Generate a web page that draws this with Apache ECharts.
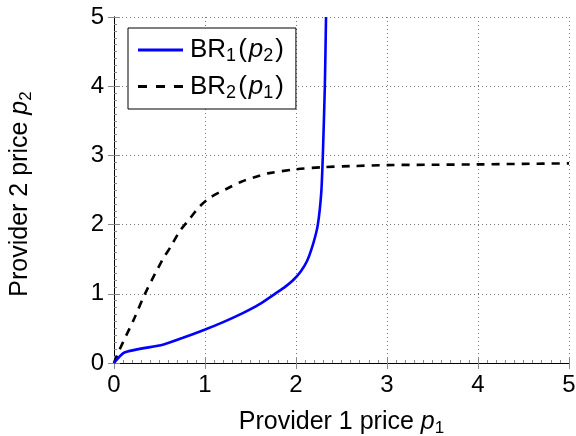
<!DOCTYPE html>
<html>
<head>
<meta charset="utf-8">
<script src="https://cdn.jsdelivr.net/npm/echarts@6/dist/echarts.min.js"></script>
<style>html,body{margin:0;padding:0;background:#fff}#c{width:576px;height:436px}</style>
</head>
<body>
<div id="c"></div>
<script>
// BR1(p2): x = best response of provider 1, y = p2
const br1X = [0, 0.115, 0.536, 0.75, 0.995, 1.2, 1.415, 1.6, 1.78, 1.88, 1.97, 2.05, 2.12, 2.19, 2.24, 2.277, 2.295, 2.317, 2.33];
const br1P2 = [0, 0.153, 0.264, 0.36, 0.48, 0.59, 0.72, 0.85, 1.01, 1.1, 1.2, 1.32, 1.47, 1.73, 2.0, 2.45, 3.0, 4.0, 5.0];
// BR2(p1): x = p1, y = best response of provider 2
const p1Vals = [0, 0.06, 0.225, 0.335, 0.536, 0.628, 0.72, 0.83, 0.94, 1.068, 1.25, 1.40, 1.58, 1.69, 2.0, 2.3, 2.6, 3.0, 3.5, 4.0, 4.5, 5.0];
const br2Y = [0, 0.19, 0.65, 0.985, 1.50, 1.69, 1.90, 2.08, 2.26, 2.40, 2.525, 2.62, 2.70, 2.74, 2.80, 2.83, 2.845, 2.86, 2.865, 2.87, 2.878, 2.885];
const xTickVals = [0, 1, 2, 3, 4, 5];
const yTickVals = [0, 1, 2, 3, 4, 5];
const seriesNames = ['BR1', 'BR2'];

const FONT = 'Liberation Sans';
const chart = echarts.init(document.getElementById('c'), null, {renderer: 'canvas'});
function rich(fs, ss, pad, sp) {
  return {
    n: {fontFamily: FONT, fontSize: fs, color: '#000'},
    o: {fontFamily: FONT, fontSize: fs, color: '#000', padding: [0, sp, 0, 0]},
    i: {fontFamily: FONT, fontSize: fs, fontStyle: 'italic', color: '#000'},
    s: {fontFamily: FONT, fontSize: ss, color: '#000', padding: [pad, sp, 0, 0]}
  };
}
const gridCol = '#777';
function baseAxis(pos, vals) {
  return {
    type: 'value', min: vals[0], max: vals[vals.length - 1], interval: 1, position: pos,
    axisLine: {show: true, lineStyle: {color: '#000', width: 1}},
    axisTick: {show: true, inside: true, length: 6, lineStyle: {color: '#888'}},
    minorTick: {show: true, splitNumber: 10, length: 3, lineStyle: {color: '#888'}},
    splitLine: {show: true, lineStyle: {color: gridCol, type: [1, 3], width: 1}},
    axisLabel: {show: true, fontFamily: FONT, fontSize: 24, color: '#000', margin: 10},
  };
}
const xMain = Object.assign(baseAxis('bottom', xTickVals), {
  name: '{n|Provider 1 price }{i|p}{s|1}', nameLocation: 'middle', nameGap: 44,
  nameTextStyle: {rich: rich(25, 17, 13, 0)}
});
const yMain = Object.assign(baseAxis('left', yTickVals), {
  name: '{n|Provider 2 price }{i|p}{s|2}', nameLocation: 'middle', nameGap: 79,
  nameTextStyle: {rich: rich(25, 17, 13, 0), padding: [0, 8, 0, 0]}
});
function sideAxis(pos) {
  return {type: 'value', min: 0, max: 5, interval: 1, position: pos,
    axisLine: {show: true, lineStyle: {color: '#000'}},
    axisTick: {show: true, inside: true, length: 6, lineStyle: {color: '#888'}},
    axisLabel: {show: false}, splitLine: {show: false}};
}
const solidIcon = 'path://M0,0H45V3H0Z';
const dashIcon = 'path://M0,0H9V3H0Z M18,0H27V3H18Z M36,0H45V3H36Z';

chart.setOption({
  animation: false,
  backgroundColor: '#fff',
  grid: {left: 114, right: 7, top: 17, bottom: 73, containLabel: false, outerBoundsMode: 'none'},
  xAxis: [xMain, sideAxis('top')],
  yAxis: [yMain, sideAxis('right')],
  legend: {
    orient: 'vertical', left: 128, top: 28,
    backgroundColor: '#fff', borderColor: '#000', borderWidth: 1, borderRadius: 0,
    padding: [7, 12, 7, 10], itemGap: 6, itemWidth: 45, itemHeight: 3,
    data: [{name: seriesNames[0], icon: solidIcon, itemStyle: {color: '#0000ff'}},
           {name: seriesNames[1], icon: dashIcon, itemStyle: {color: '#000'}}],
    formatter: function (n) {
      return n === 'BR1' ? '{n|BR}{s|1}{o|(}{i|p}{s|2}{n|)}' : '{n|BR}{s|2}{o|(}{i|p}{s|1}{n|)}';
    },
    textStyle: {rich: rich(26, 18, 13, 2), lineHeight: 30, padding: [0, 0, 0, 2]}
  },
  series: [
    {name: 'BR1', type: 'line', showSymbol: false, symbol: 'none', smooth: 0.2, z: 5,
      data: br1X.map((x, k) => [x, br1P2[k]]),
      lineStyle: {color: '#0000ff', width: 2.6}, itemStyle: {color: '#0000ff'}},
    {name: 'BR2', type: 'line', showSymbol: false, symbol: 'none', smooth: 0.3, z: 4,
      data: p1Vals.map((x, k) => [x, br2Y[k]]),
      lineStyle: {color: '#000', width: 2.6, type: [8, 7]}, itemStyle: {color: '#000'}}
  ]
});
</script>
</body>
</html>
